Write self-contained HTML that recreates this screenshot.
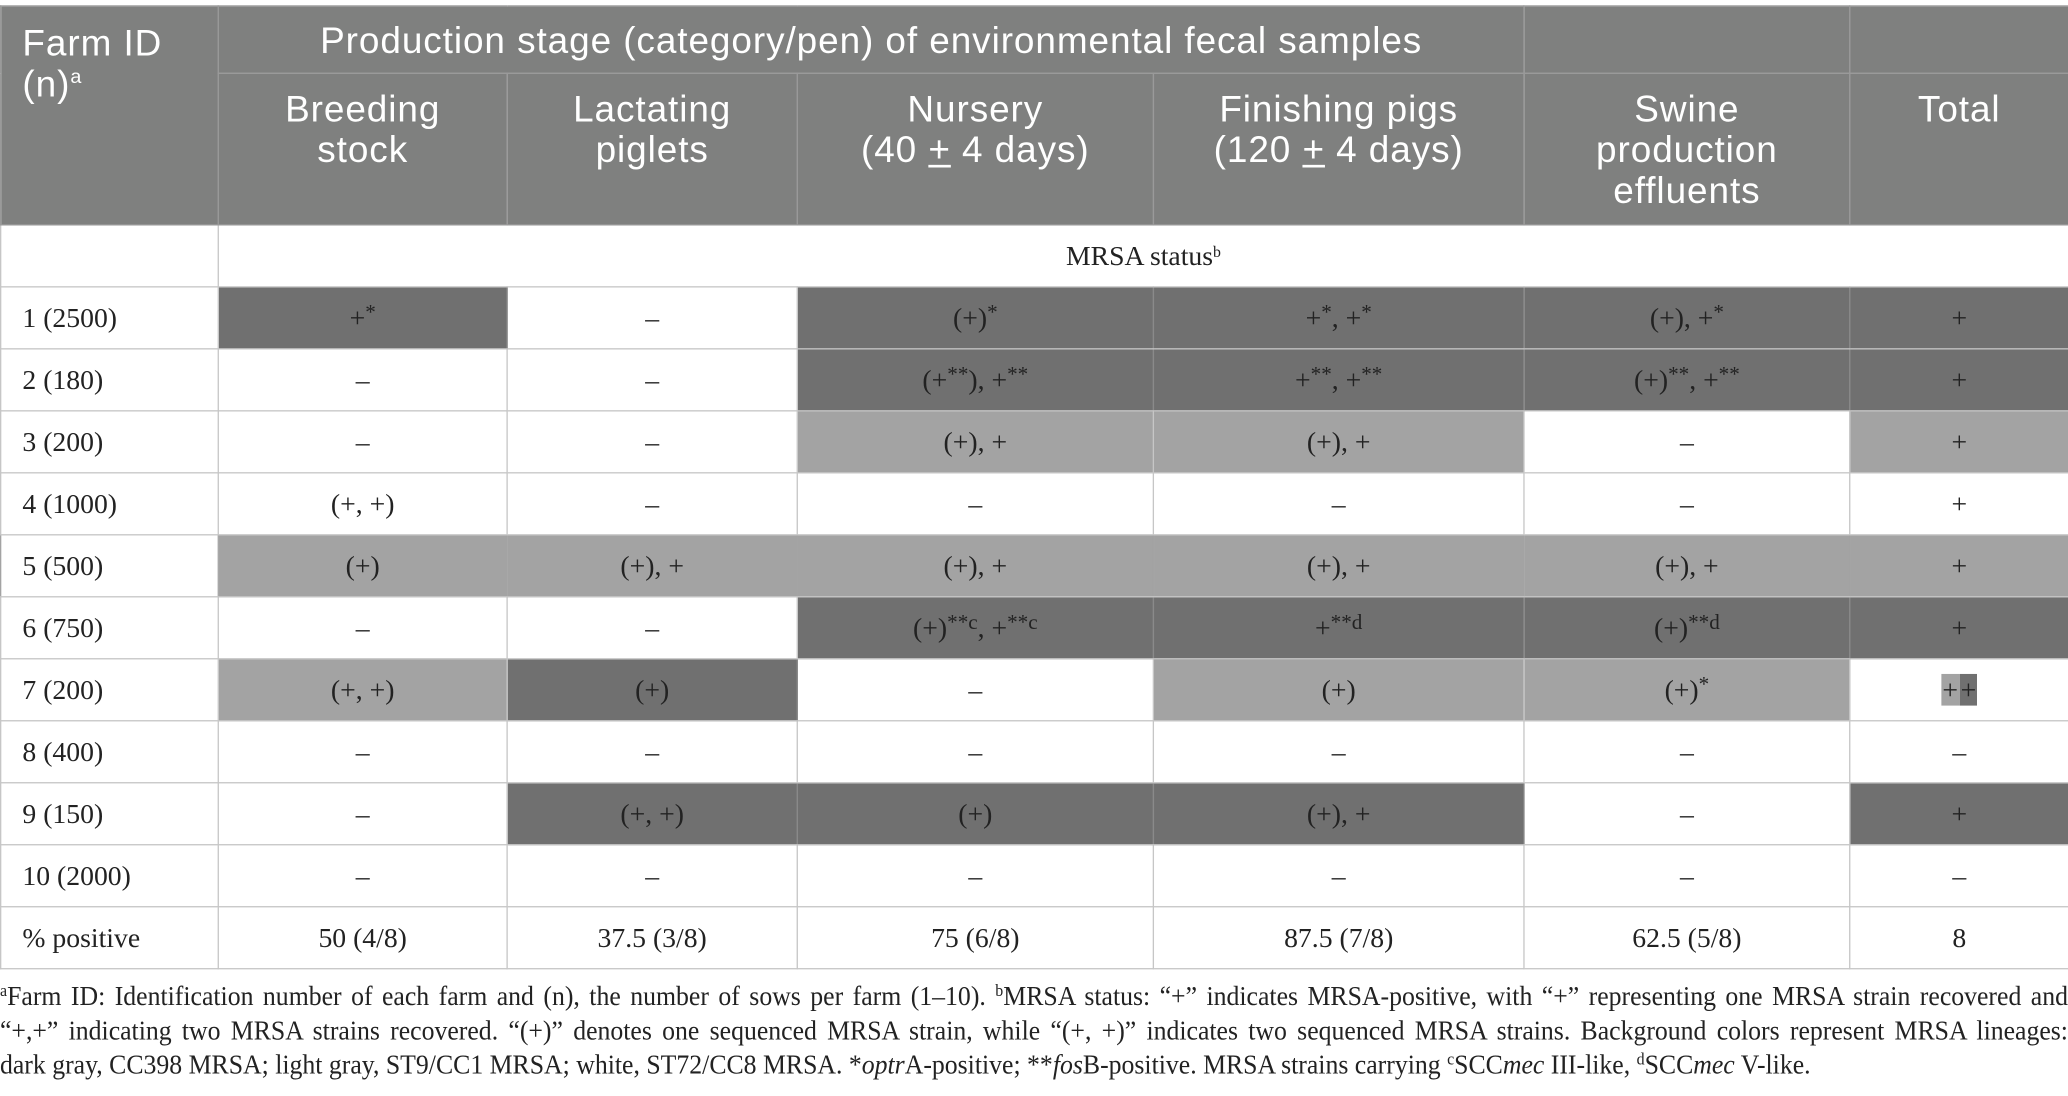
<!DOCTYPE html>
<html><head><meta charset="utf-8">
<style>
html,body{margin:0;padding:0;background:#fff;}
body{width:2068px;height:1096px;overflow:hidden;}
#wrap{position:absolute;left:0;top:0;width:1568px;height:831px;transform:scale(1.318878);transform-origin:0 0;}
table{position:absolute;left:0;top:4px;width:1568px;border-collapse:collapse;table-layout:fixed;}
td,th{padding:0;border:1.5px solid #c6c6c6;text-align:center;vertical-align:middle;font-family:"Liberation Serif",serif;font-size:21px;color:#222;}
th{background:#7f807f;color:#fff;font-family:"Liberation Sans",sans-serif;font-weight:normal;font-size:28px;letter-spacing:0.7px;border-color:#9a9a9a;line-height:31px;}
tr.h1 th{height:50px;}
tr.h2 th{height:103px;vertical-align:top;padding-top:11px;}
tr.r td{height:46px;}
td.id{text-align:left;padding-left:16px;background:#fff;}
.D{background:#707070;border-left-color:#8a8a8a;border-right-color:#8a8a8a;}
.L{background:#a3a3a3;}
.W{background:#fff;}
tr.five td.L{border-left-color:#a3a3a3;border-right-color:#a3a3a3;}
sup{font-size:16px;vertical-align:6px;line-height:0;}
.foot{position:absolute;left:0;width:1686px;transform:scaleX(0.93);transform-origin:0 0;font-family:"Liberation Serif",serif;font-size:21px;color:#222;white-space:nowrap;}
.foot sup{font-size:13px;vertical-align:7px;}
.just{text-align:justify;text-align-last:justify;}
</style></head><body>
<div id="wrap">
<table>
<colgroup><col style="width:165px"><col style="width:219px"><col style="width:220px"><col style="width:270px"><col style="width:281px"><col style="width:247px"><col style="width:166px"></colgroup>
<tr class="h1">
<th rowspan="2" style="text-align:left;vertical-align:top;padding:12px 0 0 16px;">Farm ID<br>(n)<sup style="font-size:15px;vertical-align:10px">a</sup></th>
<th colspan="4">Production stage (category/pen) of environmental fecal samples</th>
<th></th>
<th></th>
</tr>
<tr class="h2">
<th>Breeding<br>stock</th>
<th>Lactating<br>piglets</th>
<th>Nursery<br>(40 <u>+</u> 4 days)</th>
<th>Finishing pigs<br>(120 <u>+</u> 4 days)</th>
<th>Swine<br>production<br>effluents</th>
<th>Total</th>
</tr>
<tr class="r"><td class="W"></td><td colspan="6" class="W">MRSA status<sup style="font-size:12px">b</sup></td></tr>
<tr class="r"><td class="id">1 (2500)</td><td class="D">+<sup>*</sup></td><td class="W">–</td><td class="D">(+)<sup>*</sup></td><td class="D">+<sup>*</sup>, +<sup>*</sup></td><td class="D">(+), +<sup>*</sup></td><td class="D">+</td></tr>
<tr class="r"><td class="id">2 (180)</td><td class="W">–</td><td class="W">–</td><td class="D">(+<sup>**</sup>), +<sup>**</sup></td><td class="D">+<sup>**</sup>, +<sup>**</sup></td><td class="D">(+)<sup>**</sup>, +<sup>**</sup></td><td class="D">+</td></tr>
<tr class="r"><td class="id">3 (200)</td><td class="W">–</td><td class="W">–</td><td class="L">(+), +</td><td class="L">(+), +</td><td class="W">–</td><td class="L">+</td></tr>
<tr class="r"><td class="id">4 (1000)</td><td class="W">(+, +)</td><td class="W">–</td><td class="W">–</td><td class="W">–</td><td class="W">–</td><td class="W">+</td></tr>
<tr class="r five"><td class="id L" style="background:#fff">5 (500)</td><td class="L">(+)</td><td class="L">(+), +</td><td class="L">(+), +</td><td class="L">(+), +</td><td class="L">(+), +</td><td class="L">+</td></tr>
<tr class="r"><td class="id">6 (750)</td><td class="W">–</td><td class="W">–</td><td class="D">(+)<sup>**c</sup>, +<sup>**c</sup></td><td class="D">+<sup>**d</sup></td><td class="D">(+)<sup>**d</sup></td><td class="D">+</td></tr>
<tr class="r"><td class="id">7 (200)</td><td class="L">(+, +)</td><td class="D">(+)</td><td class="W">–</td><td class="L">(+)</td><td class="L">(+)<sup>*</sup></td><td class="W"><span style="background:#a3a3a3;padding:0 1px">+</span><span style="background:#707070;padding:0 1px">+</span></td></tr>
<tr class="r"><td class="id">8 (400)</td><td class="W">–</td><td class="W">–</td><td class="W">–</td><td class="W">–</td><td class="W">–</td><td class="W">–</td></tr>
<tr class="r"><td class="id">9 (150)</td><td class="W">–</td><td class="D">(+, +)</td><td class="D">(+)</td><td class="D">(+), +</td><td class="W">–</td><td class="D">+</td></tr>
<tr class="r"><td class="id">10 (2000)</td><td class="W">–</td><td class="W">–</td><td class="W">–</td><td class="W">–</td><td class="W">–</td><td class="W">–</td></tr>
<tr class="r"><td class="id">% positive</td><td class="W">50 (4/8)</td><td class="W">37.5 (3/8)</td><td class="W">75 (6/8)</td><td class="W">87.5 (7/8)</td><td class="W">62.5 (5/8)</td><td class="W">8</td></tr>
</table>
<div class="foot just" style="top:743px"><sup>a</sup>Farm ID: Identification number of each farm and (n), the number of sows per farm (1–10). <sup>b</sup>MRSA status: “+” indicates MRSA-positive, with “+” representing one MRSA strain recovered and</div>
<div class="foot just" style="top:769px">“+,+” indicating two MRSA strains recovered. “(+)” denotes one sequenced MRSA strain, while “(+, +)” indicates two sequenced MRSA strains. Background colors represent MRSA lineages:</div>
<div class="foot" style="top:795px">dark gray, CC398 MRSA; light gray, ST9/CC1 MRSA; white, ST72/CC8 MRSA. *<i>optr</i>A-positive; **<i>fos</i>B-positive. MRSA strains carrying <sup>c</sup>SCC<i>mec</i> III-like, <sup>d</sup>SCC<i>mec</i> V-like.</div>
</div>
</body></html>
